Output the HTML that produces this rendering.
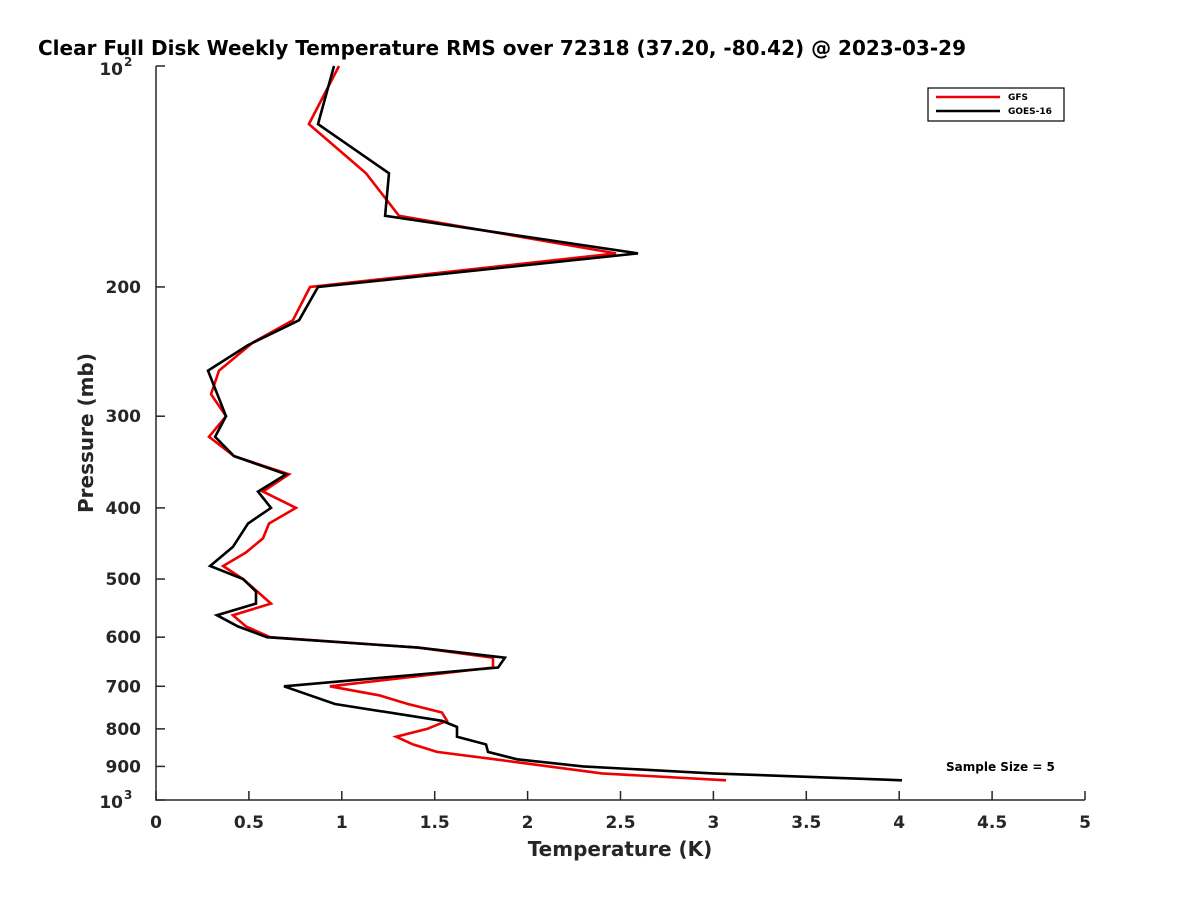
<!DOCTYPE html>
<html><head><meta charset="utf-8"><style>
html,body{margin:0;padding:0;background:#fff;overflow:hidden;}
svg text{font-family:"DejaVu Sans","Liberation Sans",sans-serif;font-weight:bold;fill:#262626;}
</style></head><body>
<svg id="chart" width="1200" height="900" viewBox="0 0 1200 900" xmlns="http://www.w3.org/2000/svg">
<rect width="1200" height="900" fill="#fff"/>
<text x="38" y="55" font-size="20" style="fill:#000">Clear Full Disk Weekly Temperature RMS over 72318 (37.20, -80.42) @ 2023-03-29</text>
<g id="axes"></g>
<g id="series"></g>
<text x="620" y="856" font-size="20" text-anchor="middle">Temperature (K)</text>
<text transform="translate(93,433) rotate(-90)" font-size="20" text-anchor="middle">Pressure (mb)</text>
<g>
<rect x="928" y="88" width="136" height="33" fill="#fff" stroke="#000" stroke-width="1.2"/>
<line x1="936" y1="97" x2="1000" y2="97" stroke="#e00" stroke-width="2.5"/>
<text x="1008" y="100" font-size="9" style="fill:#000">GFS</text>
<line x1="936" y1="111" x2="1000" y2="111" stroke="#000" stroke-width="2.5"/>
<text x="1008" y="114" font-size="9" style="fill:#000">GOES-16</text>
</g>
<text x="946" y="771" font-size="12" style="fill:#000">Sample Size = 5</text>
</svg>
<script>
const xTicks=[0,0.5,1,1.5,2,2.5,3,3.5,4,4.5,5];
const xTickLabels=["0","0.5","1","1.5","2","2.5","3","3.5","4","4.5","5"];
const yTicks=[200,300,400,500,600,700,800,900];
const gfsPressure=[100,120,140,160,180,200,222,238,260,280,300,320,340,360,380,400,420,440,460,480,500,540,560,580,600,620,640,660,700,720,740,760,780,800,820,840,860,880,920,940];
const gfsTemp=[0.985,0.823,1.130,1.308,2.476,0.829,0.737,0.522,0.339,0.296,0.377,0.285,0.420,0.716,0.576,0.753,0.608,0.576,0.484,0.361,0.468,0.619,0.414,0.484,0.614,1.410,1.814,1.814,0.936,1.200,1.356,1.539,1.566,1.459,1.292,1.383,1.512,1.825,2.400,3.068];
const goesPressure=[100,120,140,160,180,200,222,240,260,300,320,340,360,380,400,420,452,480,500,520,540,560,580,600,620,640,660,700,740,780,795,820,840,860,880,900,920,940];
const goesTemp=[0.958,0.872,1.254,1.233,2.594,0.872,0.770,0.495,0.280,0.377,0.318,0.420,0.700,0.549,0.619,0.495,0.414,0.291,0.468,0.538,0.538,0.328,0.441,0.597,1.410,1.878,1.841,0.689,0.963,1.539,1.620,1.620,1.776,1.787,1.943,2.298,2.998,4.015];

const NS="http://www.w3.org/2000/svg";
const X0=156,X1=1085,Y0=66,Y1=800;
function xs(t){return X0+(t-0)/(5-0)*(X1-X0);}
function ys(p){return Y0+Math.log10(p/100)*(Y1-Y0);}
function mk(tag,attrs,parent){const e=document.createElementNS(NS,tag);for(const k in attrs)e.setAttribute(k,attrs[k]);parent.appendChild(e);return e;}
const axes=document.getElementById('axes');
const ax=mk('path',{d:`M${X0},${Y0}V${Y1}H${X1}`,fill:'none',stroke:'#262626','stroke-width':1.5},axes);


xTicks.forEach((t,i)=>{
  const l=mk('line',{x1:xs(t),x2:xs(t),y1:Y1,y2:Y1-9,stroke:'#262626','stroke-width':1.5},axes);
  
  
  const tx=mk('text',{x:xs(t),y:Y1+28,'font-size':17,'text-anchor':'middle'},axes);
  tx.textContent=xTickLabels[i];
  
  
});
[100].concat(yTicks,[1000]).forEach(p=>{
  const l=mk('line',{x1:X0,x2:X0+9,y1:ys(p),y2:ys(p),stroke:'#262626','stroke-width':1.5},axes);
  
  
});
yTicks.forEach(p=>{
  const tx=mk('text',{x:X0-15,y:ys(p)+6,'font-size':17,'text-anchor':'end'},axes);
  tx.textContent=String(p);
  
  
});
[[100,'2'],[1000,'3']].forEach(([p,e])=>{
  const tx=mk('text',{x:X0-33,y:ys(p)+(p===100?9:8),'font-size':17,'text-anchor':'end'},axes);
  tx.textContent='10';
  
  
  const sp=mk('text',{x:X0-32,y:ys(p)+(p===100?0:-1),'font-size':12},axes);
  sp.textContent=e;
  
  
});
const ser=document.getElementById('series');
function line(P,T,color,name){
  const d=P.map((p,i)=>(i?'L':'M')+xs(T[i]).toFixed(1)+','+ys(p).toFixed(1)).join('');
  const e=mk('path',{d:d,fill:'none',stroke:color,'stroke-width':2.6,'stroke-linejoin':'miter'},ser);
  
  
}
line(gfsPressure,gfsTemp,'#e00','gfs-line');
line(goesPressure,goesTemp,'#000','goes16-line');
</script>
</body></html>
